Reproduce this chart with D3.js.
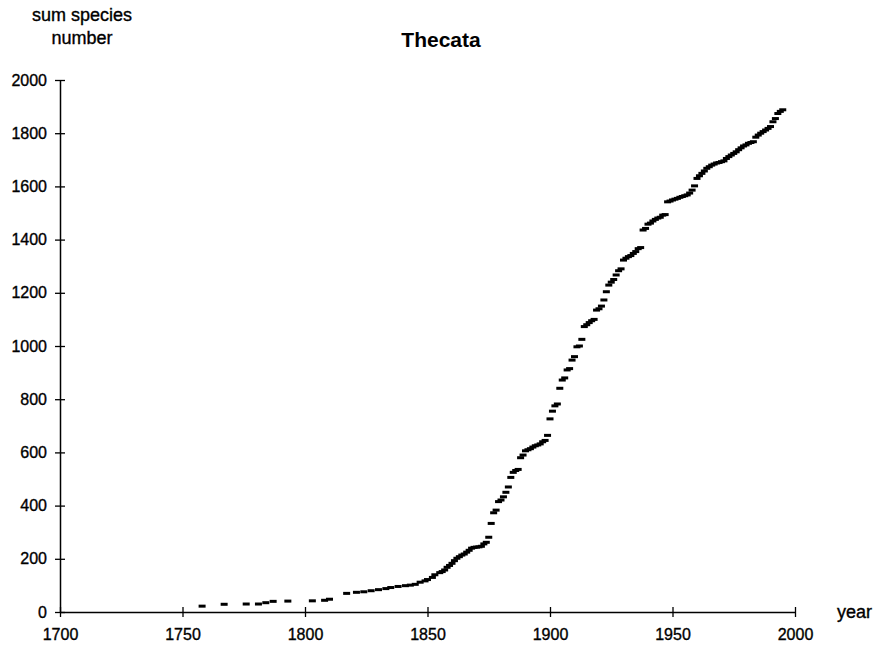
<!DOCTYPE html>
<html>
<head>
<meta charset="utf-8">
<script src="https://cdn.jsdelivr.net/npm/d3@7/dist/d3.min.js"></script>
<style>
  html, body { margin: 0; padding: 0; background: #fff; }
  svg { display: block; font-family: "Liberation Sans", Arial, sans-serif; }
</style>
</head>
<body>
<svg id="chart" width="877" height="646"></svg>
<script>
const title = "Thecata";
const yAxisTitle = ["sum species", "number"];
const xAxisTitle = "year";
const xTicks = [1700, 1750, 1800, 1850, 1900, 1950, 2000];
const yTicks = [0, 200, 400, 600, 800, 1000, 1200, 1400, 1600, 1800, 2000];

const years = [1758, 1767, 1776, 1781, 1784, 1787, 1793, 1803, 1808, 1810,
  1817, 1821, 1824, 1827, 1830, 1833, 1835, 1838, 1841, 1843, 1845, 1847, 1849,
  1850, 1852, 1853, 1855, 1856, 1857, 1858, 1859, 1860, 1861, 1862, 1863, 1864,
  1865, 1866, 1867, 1868, 1869, 1870, 1871, 1872, 1873, 1874, 1875, 1876, 1877,
  1878, 1879, 1880, 1881, 1882, 1883, 1884, 1885, 1886, 1887, 1888, 1889, 1890,
  1891, 1892, 1893, 1894, 1895, 1896, 1897, 1898, 1899, 1900, 1901, 1902, 1903,
  1904, 1905, 1906, 1907, 1908, 1909, 1910, 1911, 1912, 1913, 1914, 1915, 1916,
  1917, 1918, 1919, 1920, 1921, 1922, 1923, 1924, 1925, 1926, 1927, 1928, 1929,
  1930, 1931, 1932, 1933, 1934, 1935, 1936, 1937, 1938, 1939, 1940, 1941, 1942,
  1943, 1944, 1945, 1946, 1947, 1948, 1949, 1950, 1951, 1952, 1953, 1954, 1955,
  1956, 1957, 1958, 1959, 1960, 1961, 1962, 1963, 1964, 1965, 1966, 1967, 1968,
  1969, 1970, 1971, 1972, 1973, 1974, 1975, 1976, 1977, 1978, 1979, 1980, 1981,
  1982, 1983, 1984, 1985, 1986, 1987, 1988, 1989, 1990, 1991, 1992, 1993, 1994, 1995];

const species = [22, 29, 30, 30, 35, 40, 41, 42, 44, 48,
  70, 74, 76, 80, 84, 88, 92, 96, 99, 101, 104, 112, 117,
  122, 130, 140, 148, 152, 158, 168, 175, 183, 193, 202, 208, 214,
  218, 225, 232, 240, 243, 244, 245, 247, 256, 262, 281, 333, 373,
  383, 415, 421, 433, 450, 470, 506, 525, 532, 536, 580, 590, 606,
  610, 614, 620, 625, 628, 632, 640, 645, 664, 726, 755, 775, 782,
  841, 872, 880, 910, 915, 947, 960, 997, 1000, 1025, 1073, 1080, 1088,
  1095, 1100, 1135, 1140, 1150, 1173, 1204, 1229, 1240, 1250, 1267, 1283, 1290,
  1323, 1330, 1336, 1340, 1348, 1355, 1366, 1370, 1436, 1442, 1458, 1462, 1470,
  1476, 1481, 1484, 1492, 1494, 1542, 1545, 1549, 1552, 1555, 1559, 1562, 1565,
  1568, 1575, 1586, 1602, 1630, 1640, 1649, 1658, 1668, 1674, 1680, 1684, 1688,
  1690, 1693, 1696, 1705, 1712, 1718, 1724, 1730, 1738, 1745, 1752, 1756, 1762,
  1765, 1768, 1785, 1793, 1800, 1806, 1812, 1818, 1825, 1843, 1855, 1874, 1882, 1888];

const data = years.map((y, i) => ({ year: y, value: species[i] }));

const svg = d3.select("#chart");
const x = d3.scaleLinear().domain([1700, 2000]).range([60, 795]);
const y = d3.scaleLinear().domain([0, 2000]).range([612, 80]);

function styleText(sel, size) {
  sel.attr("font-size", size).attr("fill", "#000")
    .attr("stroke", "#000").attr("stroke-width", 0.35)
    .attr("font-family", "'Liberation Sans', Arial, sans-serif");
}

// Y axis
const yAxis = d3.axisLeft(y).tickValues(yTicks).tickFormat(d3.format("d"))
  .tickSizeInner(5).tickSizeOuter(0).tickPadding(8);
const gy = svg.append("g").attr("transform", `translate(${x(1700)},0)`).call(yAxis);
gy.select(".domain").attr("stroke", "#000").attr("stroke-width", 1.5);
gy.selectAll(".tick line").attr("x2", -5).attr("x1", 5).attr("stroke", "#000").attr("stroke-width", 1.3);
styleText(gy.selectAll(".tick text"), 16);

// X axis
const xAxis = d3.axisBottom(x).tickValues(xTicks).tickFormat(d3.format("d"))
  .tickSizeInner(5).tickSizeOuter(0).tickPadding(12);
const gx = svg.append("g").attr("transform", `translate(0,${y(0)})`).call(xAxis);
gx.select(".domain").attr("stroke", "#000").attr("stroke-width", 1.5);
gx.selectAll(".tick line").attr("y1", -5).attr("y2", 5).attr("stroke", "#000").attr("stroke-width", 1.3);
styleText(gx.selectAll(".tick text"), 16);

// Data dashes
svg.append("g").selectAll("rect").data(data).enter().append("rect")
  .attr("x", d => x(d.year) - 3.5)
  .attr("y", d => y(d.value) - 1.5)
  .attr("width", 7)
  .attr("height", 3)
  .attr("fill", "#000");

// Titles
svg.append("text").attr("x", 441).attr("y", 47).attr("text-anchor", "middle")
  .attr("font-size", 21).attr("font-weight", "bold").attr("fill", "#000").text(title);

styleText(svg.append("text").attr("x", 82).attr("y", 21).attr("text-anchor", "middle").text(yAxisTitle[0]), 18);
styleText(svg.append("text").attr("x", 82).attr("y", 44).attr("text-anchor", "middle").text(yAxisTitle[1]), 18);

styleText(svg.append("text").attr("x", 837).attr("y", 618).attr("text-anchor", "start").text(xAxisTitle), 18);
</script>
</body>
</html>
